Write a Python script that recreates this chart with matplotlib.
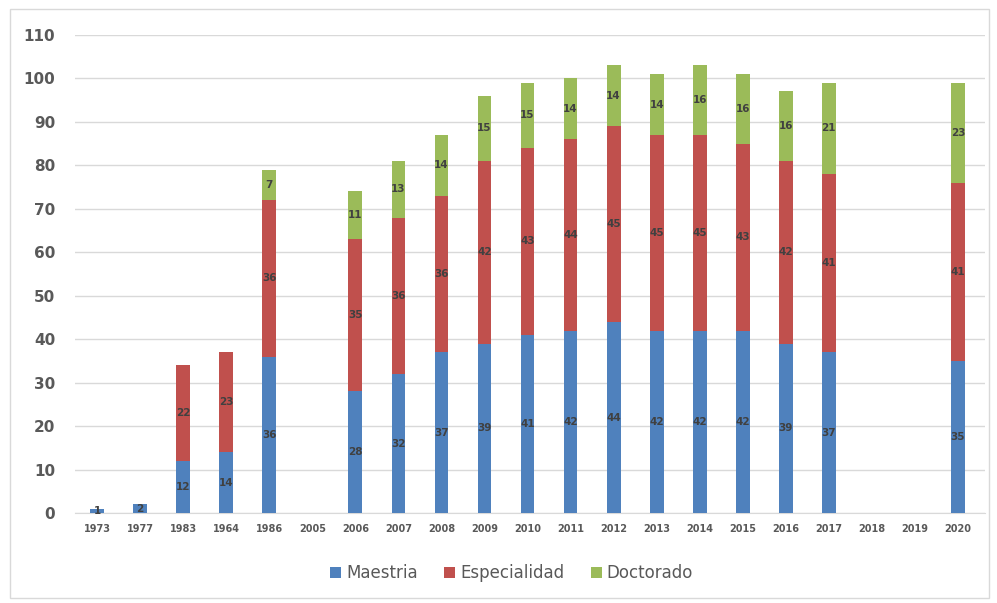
import matplotlib
matplotlib.use("Agg")
import matplotlib.pyplot as plt
from matplotlib.patches import Rectangle
import numpy as np

years = ["1973", "1977", "1983", "1964", "1986", "2005", "2006", "2007", "2008", "2009",
         "2010", "2011", "2012", "2013", "2014", "2015", "2016", "2017", "2018", "2019", "2020"]
maestria =     [1, 2, 12, 14, 36, 0, 28, 32, 37, 39, 41, 42, 44, 42, 42, 42, 39, 37, 0, 0, 35]
especialidad = [0, 0, 22, 23, 36, 0, 35, 36, 36, 42, 43, 44, 45, 45, 45, 43, 42, 41, 0, 0, 41]
doctorado =    [0, 0, 0, 0, 7, 0, 11, 13, 14, 15, 15, 14, 14, 14, 16, 16, 16, 21, 0, 0, 23]

series = [("Maestria", maestria, "#4F81BD"),
          ("Especialidad", especialidad, "#C0504D"),
          ("Doctorado", doctorado, "#9BBB59")]

fig = plt.figure(figsize=(9.97, 6.03), dpi=100)
ax = fig.add_axes([0.075, 0.149, 0.913, 0.793])
fig.patches.append(Rectangle((0.010, 0.008), 0.982, 0.977, transform=fig.transFigure,
                             fill=False, edgecolor="#D9D9D9", linewidth=1.0))

x = np.arange(len(years))
bottom = np.zeros(len(years))
for name, vals, color in series:
    vals = np.array(vals, dtype=float)
    ax.bar(x, vals, 0.32, bottom=bottom, color=color, label=name, zorder=3)
    for xi, v, b in zip(x, vals, bottom):
        if v > 0:
            ax.text(xi, b + v / 2, f"{int(v)}", ha="center", va="center", fontsize=7.5,
                    fontweight="bold", color="#404040", zorder=4)
    bottom += vals

ax.set_ylim(0, 110)
ax.set_yticks(np.arange(0, 111, 10))
ax.set_xlim(-0.52, len(years) - 1 + 0.63)
ax.set_xticks(x)
ax.set_xticklabels(years, fontsize=7, fontweight="bold", color="#595959")
ax.tick_params(axis="y", labelsize=11, colors="#595959", length=0, pad=14)
ax.tick_params(axis="x", length=0, pad=8)
for lbl in ax.get_yticklabels():
    lbl.set_fontweight("bold")
ax.grid(axis="y", color="#D9D9D9", linewidth=1, zorder=0)
for s in ["top", "right", "left"]:
    ax.spines[s].set_visible(False)
ax.spines["bottom"].set_color("#D9D9D9")

leg = ax.legend(loc="upper center", bbox_to_anchor=(0.48, -0.075), ncol=3, frameon=False,
                fontsize=12, handlelength=0.65, handleheight=0.65, handletextpad=0.3,
                columnspacing=1.6)
for t in leg.get_texts():
    t.set_color("#595959")

fig.savefig("out.png", dpi=100)
